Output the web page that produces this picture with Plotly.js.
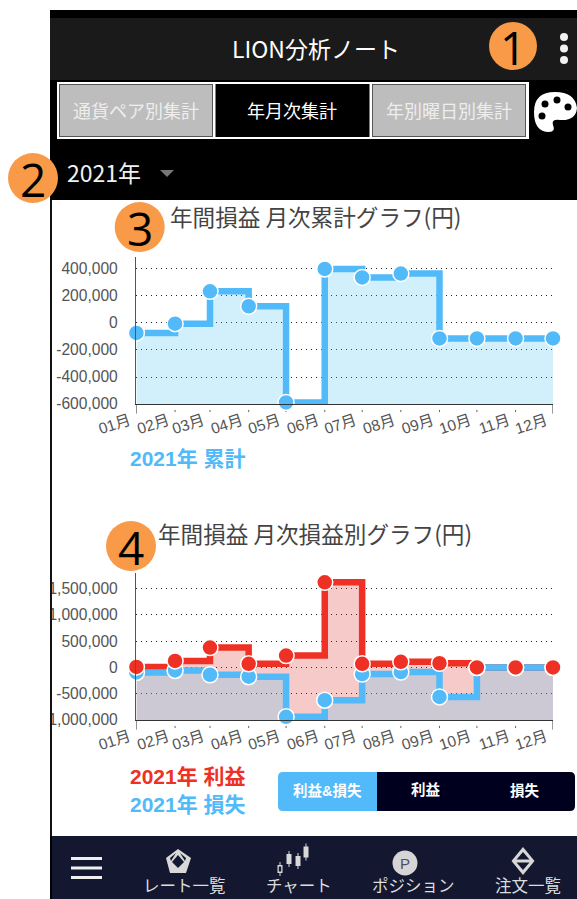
<!DOCTYPE html>
<html><head><meta charset="utf-8">
<script src="https://cdn.plot.ly/plotly-3.0.1.min.js"></script>
<style>html,body{margin:0;padding:0;background:#fff;overflow:hidden}#c{width:577px;height:899px}</style>
</head><body><div id="c"></div>
<script>
const months = ['2021-01-01','2021-02-01','2021-03-01','2021-04-01','2021-05-01','2021-06-01','2021-07-01','2021-08-01','2021-09-01','2021-10-01','2021-11-01','2021-12-01'];
const monthLabels = ['01月','02月','03月','04月','05月','06月','07月','08月','09月','10月','11月','12月'];
const cumulative = [-74000,-5000,235000,124000,-588000,400000,337000,366000,-114000,-114000,-114000,-114000];
const cumFloor = [-600000,-600000,-600000,-600000,-600000,-600000,-600000,-600000,-600000,-600000,-600000,-600000];
const profit = [10000,125000,378000,70000,227000,1620000,70000,107000,80000,0,0,0];
const loss = [-95000,-57000,-139000,-176000,-939000,-624000,-126000,-88000,-561000,0,0,0];
const plFloor = [-1000000,-1000000,-1000000,-1000000,-1000000,-1000000,-1000000,-1000000,-1000000,-1000000,-1000000,-1000000];
const y1Ticks = [-600000,-400000,-200000,0,200000,400000];
const y1Text = ['-600,000','-400,000','-200,000','0','200,000','400,000'];
const y2Ticks = [-1000000,-500000,0,500000,1000000,1500000];
const y2Text = ['-1,000,000','-500,000','0','500,000','1,000,000','1,500,000'];

const BLUE='#52baf9', RED='#ee3124', W=577, H=899;
const FONT="'Liberation Sans','Noto Sans CJK JP',sans-serif";
const CJK="'Noto Sans CJK JP','Liberation Sans',sans-serif";
const X=p=>p/W, Y=p=>1-p/H;

const shapes=[], annotations=[];
function rect(x0,y0,x1,y1,fill){shapes.push({type:'rect',xref:'paper',yref:'paper',x0:X(x0),x1:X(x1),y0:Y(y0),y1:Y(y1),fillcolor:fill,line:{width:0},layer:'above'});}
function circ(cx,cy,r,fill){shapes.push({type:'circle',xref:'paper',yref:'paper',x0:X(cx-r),x1:X(cx+r),y0:Y(cy-r),y1:Y(cy+r),fillcolor:fill,line:{width:0},layer:'above'});}
function path(cmds,fill){
  const d=cmds.map(c=>{ if(c[0]==='Z')return 'Z'; let s=c[0]; for(let i=1;i<c.length;i+=2){s+=' '+X(c[i])+' '+Y(c[i+1]);} return s;}).join(' ');
  shapes.push({type:'path',xref:'paper',yref:'paper',path:d,fillcolor:fill,line:{width:0},layer:'above'});
}
function txt(t,x,y,size,color,anchor,bold,fam){annotations.push({text:bold?'<b>'+t+'</b>':t,xref:'paper',yref:'paper',x:X(x),y:Y(y),xanchor:anchor||'center',yanchor:'middle',showarrow:false,font:{size:size,color:color,family:fam||FONT}});}

// left mask for clipped tick labels and page frame
rect(0,0,50,899,'#ffffff');
rect(50,200,52,836,'#111111');
rect(50,10,577,200,'#000000');
rect(50,18,577,80,'#1a1a1a');
// tabs
rect(57,82,529,139,'#ffffff');
rect(59,84,213,137,'#555555'); rect(60,85,212,136,'#bdbdbd');
rect(215.5,84,369.5,137,'#000000');
rect(372,84,526,137,'#555555'); rect(373,85,525,136,'#bdbdbd');
txt('LION分析ノート',316,47.5,23,'#ffffff','center',false,CJK);
txt('通貨ペア別集計',136,110,18,'#eeeeee','center',false,CJK);
txt('年月次集計',292,110,18,'#ffffff','center',false,CJK);
txt('年別曜日別集計',449,110,18,'#eeeeee','center',false,CJK);
txt('2021年',65,172,23,'#f0f0f0','left',false,CJK);
path([['M',160,170],['L',174,170],['L',167,177],['Z']],'#777777');
// kebab
circ(564,37,4,'#f2f2f2'); circ(564,48.5,4,'#f2f2f2'); circ(564,60,4,'#f2f2f2');
// palette
path([['M',555,92],['Q',534,92,534,112],['Q',534,132,549,132],['Q',556,132,553,125],['Q',551,119,560,120],['Q',576,121,577,108],['Q',575,92,555,92],['Z']],'#ffffff');
circ(545,104,3.5,'#000000');circ(557,100,3.5,'#000000');circ(568,107,3.5,'#000000');circ(542,116,3.5,'#000000');

// chart texts
txt('年間損益 月次累計グラフ(円)',168,216.5,22.6,'#444444','left',false,CJK);
txt('年間損益 月次損益別グラフ(円)',156,533,22.6,'#444444','left',false,CJK);
txt('2021年 累計',128,459,21,BLUE,'left',true);
txt('2021年 利益',128,776,21,RED,'left',true);
txt('2021年 損失',128,804,21,BLUE,'left',true);

// segment control
path([['M',283,772],['L',377,772],['L',377,811],['L',283,811],['Q',278,811,278,806],['L',278,777],['Q',278,772,283,772],['Z']],BLUE);
path([['M',377,772],['L',570,772],['Q',575,772,575,777],['L',575,806],['Q',575,811,570,811],['L',377,811],['Z']],'#00001e');
txt('利益&損失',327,790,14.5,'#ffffff','center',true);
txt('利益',426,790,14.5,'#ffffff','center',true);
txt('損失',525,790,14.5,'#ffffff','center',true);

// bottom nav
rect(52,836,577,899,'#13172f');
rect(50,836,52,899,'#000000');
rect(71,857,102,860,'#f0f0f0');rect(71,866.5,102,869.5,'#f0f0f0');rect(71,876,102,879,'#f0f0f0');
path([['M',178,849],['L',191,858],['L',186,873],['L',170,873],['L',166,858],['Z']],'#d8d8d8');
path([['M',178,855],['L',184,862],['L',178,868],['L',172,862],['Z']],'#13172f');
path([['M',170,858],['L',176,853],['L',171,861],['Z']],'#13172f');
path([['M',186,858],['L',180,853],['L',185,861],['Z']],'#13172f');
// candles
[[280,869,5,8],[289,859,5,10],[298,861,5,10],[306,852,5,11]].forEach((c,i)=>{
  rect(c[0]-.5,c[1]-c[3]/2-3,c[0]+.5,c[1]+c[3]/2+3,'#d8d8d8');
  rect(c[0]-c[2]/2,c[1]-c[3]/2,c[0]+c[2]/2,c[1]+c[3]/2,'#d8d8d8');
  if(i===0) rect(c[0]-1.2,c[1]-c[3]/2+1.5,c[0]+1.2,c[1]+c[3]/2-1.5,'#13172f');
});
circ(405,863,12.5,'#d5d5d5');
txt('P',405,863,15,'#4b4f63','center',false,FONT);
path([['M',523,847],['L',534.5,861],['L',523,875],['L',511.5,861],['Z']],'#d8d8d8');
path([['M',523,852],['L',529.5,859.5],['L',516.5,859.5],['Z']],'#13172f');
path([['M',516.5,862.5],['L',529.5,862.5],['L',523,870],['Z']],'#13172f');
txt('レート一覧',184.5,885,16.5,'#dddddd','center',false,CJK);
txt('チャート',299,885,16.5,'#dddddd','center',false,CJK);
txt('ポジション',413,885,16.5,'#dddddd','center',false,CJK);
txt('注文一覧',528,885,16.5,'#dddddd','center',false,CJK);

// numbered badges
const ORANGE='#f89a48';
[[513,46,24,'1'],[33,178,25,'2'],[139.7,227,25,'3'],[131,546,25,'4']].forEach(b=>{
  circ(b[0],b[1],b[2],ORANGE);
  txt(b[3],b[0],b[1]+1,46,'#000000','center',false,"'Open Sans',sans-serif");
});

// axis tick marks built from the month list
function tickShapes(xr,yr){
  months.forEach((m,i)=>{
    const end=(i===0||i===months.length-1);
    shapes.push({type:'line',xref:xr,yref:yr+' domain',x0:m,x1:m,y0:end?-0.065:-0.055,y1:end?0:-0.04,line:{color:end?'#333333':'#666666',width:1},layer:'below'});
  });
}
tickShapes('x','y'); tickShapes('x2','y2');

function fillTrace(xa,ya,ys,fill){return {x:months,y:ys,xaxis:xa,yaxis:ya,mode:'lines',fill:fill?'tonexty':'none',fillcolor:fill,line:{width:0,shape:'hv'},hoverinfo:'skip',showlegend:false,cliponaxis:false};}
function lineTrace(xa,ya,ys,color){return {x:months,y:ys,xaxis:xa,yaxis:ya,mode:'lines',line:{color:color,width:6.5,shape:'hv'},showlegend:false,cliponaxis:false};}
function dotTrace(xa,ya,ys,color){return {x:months,y:ys,xaxis:xa,yaxis:ya,mode:'markers',marker:{color:color,size:16,line:{color:'#ffffff',width:1.5}},showlegend:false,cliponaxis:false};}

const BLUEFILL='rgba(90,200,245,0.27)', REDFILL='rgba(225,60,60,0.27)';
const data=[
  fillTrace('x','y',cumFloor),
  fillTrace('x','y',cumulative,BLUEFILL),
  lineTrace('x','y',cumulative,BLUE),
  dotTrace('x','y',cumulative,BLUE),
  fillTrace('x2','y2',plFloor),
  fillTrace('x2','y2',profit,REDFILL),
  fillTrace('x2','y2',plFloor),
  fillTrace('x2','y2',loss,BLUEFILL),
  lineTrace('x2','y2',profit,RED),
  lineTrace('x2','y2',loss,BLUE),
  dotTrace('x2','y2',loss,BLUE),
  dotTrace('x2','y2',profit,RED)
];

function xAxis(anchor){return {type:'date',domain:[136.4/W,553/W],range:[months[0],months[11]],anchor:anchor,tickmode:'array',tickvals:months,ticktext:monthLabels,
  tickangle:-18,ticks:'',tickfont:{size:15.5,color:'#555555',family:FONT},showgrid:false,zeroline:false,showline:true,linecolor:'#333333',linewidth:1,ticklabelstandoff:1,ticklabelshift:-7};}
function yAxis(anchor,domain,range,vals,text){return {domain:domain,range:range,anchor:anchor,tickmode:'array',tickvals:vals,ticktext:text,ticks:'',
  tickfont:{size:15.6,color:'#555555',family:FONT},showgrid:true,griddash:'1px,4px',gridcolor:'#222222',gridwidth:1,zeroline:false,showline:true,linecolor:'#555555',linewidth:1.5,ticklabelstandoff:14};}

const layout={width:W,height:H,autosize:false,margin:{l:0,r:0,t:0,b:0},paper_bgcolor:'#ffffff',plot_bgcolor:'rgba(0,0,0,0)',showlegend:false,
  xaxis:xAxis('y'),xaxis2:xAxis('y2'),
  yaxis:yAxis('x',[1-404/H,1-256.7/H],[-600000,491000],y1Ticks,y1Text),
  yaxis2:yAxis('x2',[1-720/H,1-572.7/H],[-1000000,1803000],y2Ticks,y2Text),
  shapes:shapes,annotations:annotations,font:{family:FONT}};
Plotly.newPlot('c',data,layout,{displayModeBar:false,staticPlot:true});
</script></body></html>
